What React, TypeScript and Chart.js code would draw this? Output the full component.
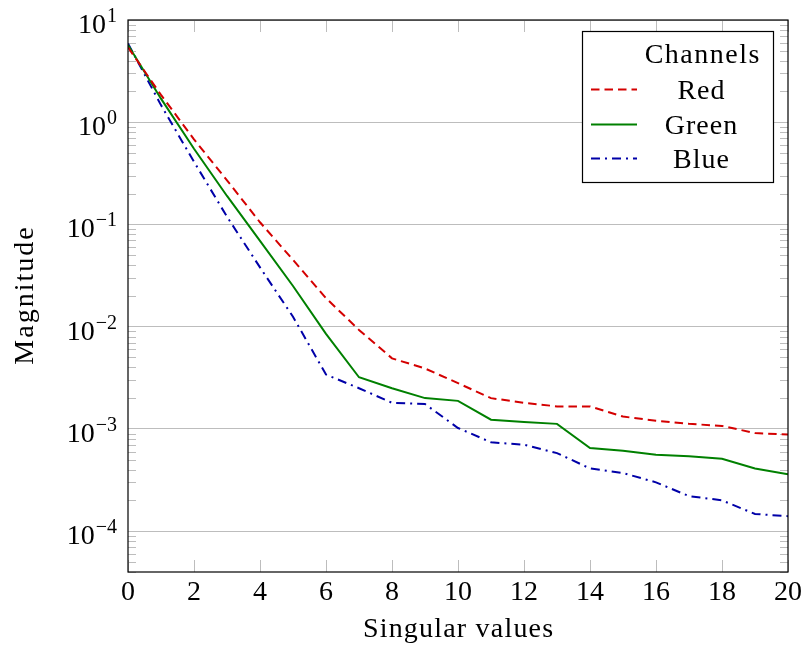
import React, { useEffect, useRef } from "react";
import { Chart, registerables } from "chart.js";

Chart.register(...registerables);

const xValues = [0, 1, 2, 3, 4, 5, 6, 7, 8, 9, 10, 11, 12, 13, 14, 15, 16, 17, 18, 19, 20];
const redValues = [5.4, 1.85, 0.68, 0.27, 0.105, 0.045, 0.019, 0.0093, 0.0049, 0.0039, 0.0028, 0.002, 0.0018, 0.00166, 0.00166, 0.00132, 0.0012, 0.00112, 0.00107, 0.00091, 0.00088];
const greenValues = [5.7, 1.7, 0.55, 0.19, 0.069, 0.025, 0.0085, 0.0032, 0.0025, 0.002, 0.00188, 0.00123, 0.00117, 0.00112, 0.00065, 0.00061, 0.00056, 0.00054, 0.00051, 0.00041, 0.00036];
const blueValues = [5.9, 1.47, 0.41, 0.119, 0.038, 0.0125, 0.0034, 0.0025, 0.0018, 0.00175, 0.00102, 0.00074, 0.0007, 0.00058, 0.00041, 0.00037, 0.0003, 0.00022, 0.0002, 0.000147, 0.00014];
const xTicks = [0, 2, 4, 6, 8, 10, 12, 14, 16, 18, 20];
const yExponents = [-4, -3, -2, -1, 0, 1];
const seriesNames = ["Red", "Green", "Blue"];
const legendTitle = "Channels";
const xTitle = "Singular values";
const yTitle = "Magnitude";

const RED = "#d40000";
const GREEN = "#008000";
const BLUE = "#0000a8";
const TICK_GRAY = "#bdbdbd";
const FONT = "'Liberation Serif', 'DejaVu Serif', serif";
const FS = 28;
const EXP_FS = 20;

function toPoints(vals: number[]) {
  return xValues.map((x, i) => ({ x, y: vals[i] }));
}

function spacedText(ctx: any, text: string, x: number, y: number, spacing: number) {
  ctx.letterSpacing = spacing + "px";
  ctx.fillText(text, x + spacing / 2, y);
  ctx.letterSpacing = "0px";
}

const decorPlugin = {
  id: "decor",
  beforeDatasetsDraw(chart: any) {
    const ctx = chart.ctx as CanvasRenderingContext2D;
    const { left, right, top, bottom } = chart.chartArea;
    const ys = chart.scales.y;
    const xs = chart.scales.x;
    ctx.save();
    ctx.strokeStyle = TICK_GRAY;
    ctx.lineWidth = 1;
    ctx.beginPath();
    for (let e = -5; e <= 1; e++) {
      for (let m = 2; m <= 9; m++) {
        const v = m * Math.pow(10, e);
        if (v < ys.min || v > ys.max) continue;
        const py = Math.round(ys.getPixelForValue(v)) + 0.5;
        ctx.moveTo(left, py);
        ctx.lineTo(left + 8, py);
        ctx.moveTo(right, py);
        ctx.lineTo(right - 8, py);
      }
    }
    for (const t of xTicks) {
      const px = Math.round(xs.getPixelForValue(t)) + 0.5;
      ctx.moveTo(px, bottom);
      ctx.lineTo(px, bottom - 12);
      ctx.moveTo(px, top);
      ctx.lineTo(px, top + 12);
    }
    ctx.stroke();
    ctx.restore();
  },
  afterDatasetsDraw(chart: any) {
    const ctx = chart.ctx as CanvasRenderingContext2D;
    const { left, right, top, bottom } = chart.chartArea;
    const ys = chart.scales.y;
    const xs = chart.scales.x;
    ctx.save();
    ctx.strokeStyle = "#000";
    ctx.lineWidth = 1.2;
    ctx.strokeRect(left, top, right - left, bottom - top);

    ctx.fillStyle = "#000";
    for (const e of yExponents) {
      const py = ys.getPixelForValue(Math.pow(10, e));
      const expText = e < 0 ? "\u2212" + Math.abs(e) : String(e);
      ctx.font = `${EXP_FS}px ${FONT}`;
      const ew = ctx.measureText(expText).width;
      const rx = left - 11;
      ctx.textAlign = "right";
      ctx.textBaseline = "alphabetic";
      ctx.fillText(expText, rx, py + 2);
      ctx.font = `${FS}px ${FONT}`;
      ctx.fillText("10", rx - ew - 1, py + 13);
    }
    ctx.font = `${FS}px ${FONT}`;
    ctx.textAlign = "center";
    ctx.textBaseline = "alphabetic";
    for (const t of xTicks) {
      const px = xs.getPixelForValue(t);
      ctx.fillText(String(t), px, 600);
    }
    spacedText(ctx, xTitle, (left + right) / 2, 637, 1.2);
    ctx.save();
    ctx.translate(33, (top + bottom) / 2);
    ctx.rotate(-Math.PI / 2);
    ctx.textAlign = "center";
    spacedText(ctx, yTitle, 0, 0, 2);
    ctx.restore();

    const bx = 582.5, by = 31.5, bw = 191, bh = 151;
    ctx.fillStyle = "#fff";
    ctx.fillRect(bx, by, bw, bh);
    ctx.strokeStyle = "#000";
    ctx.lineWidth = 1.2;
    ctx.strokeRect(bx, by, bw, bh);
    ctx.fillStyle = "#000";
    ctx.font = `${FS}px ${FONT}`;
    ctx.textAlign = "center";
    ctx.textBaseline = "alphabetic";
    spacedText(ctx, legendTitle, 702, 63, 1.5);
    const rowsY = [89, 124, 158];
    chart.data.datasets.forEach((ds: any, i: number) => {
      const y = rowsY[i];
      ctx.save();
      ctx.strokeStyle = ds.borderColor;
      ctx.lineWidth = ds.borderWidth;
      ctx.setLineDash(ds.borderDash || []);
      ctx.beginPath();
      ctx.moveTo(591, y + 0.5);
      ctx.lineTo(637, y + 0.5);
      ctx.stroke();
      ctx.restore();
      ctx.fillStyle = "#000";
      spacedText(ctx, seriesNames[i], 701, y + 10, 1);
    });
    ctx.restore();
  },
};

export default function App() {
  const canvasRef = useRef<HTMLCanvasElement | null>(null);
  useEffect(() => {
    const canvas = canvasRef.current;
    if (!canvas) return;
    const chart = new Chart(canvas, {
      type: "line",
      data: {
        datasets: [
          { label: seriesNames[0], data: toPoints(redValues), borderColor: RED, borderWidth: 2, borderDash: [8.5, 5], pointRadius: 0, fill: false, tension: 0 },
          { label: seriesNames[1], data: toPoints(greenValues), borderColor: GREEN, borderWidth: 2, pointRadius: 0, fill: false, tension: 0 },
          { label: seriesNames[2], data: toPoints(blueValues), borderColor: BLUE, borderWidth: 2, borderDash: [9, 5, 2, 5], pointRadius: 0, fill: false, tension: 0 },
        ],
      },
      options: {
        responsive: false,
        animation: false,
        devicePixelRatio: 1,
        layout: { padding: { left: 128, right: 13, top: 20, bottom: 76 } },
        plugins: { legend: { display: false }, tooltip: { enabled: false } },
        scales: {
          x: {
            type: "linear",
            min: 0,
            max: 20,
            ticks: { display: false },
            grid: { display: false, drawTicks: false },
            border: { display: false },
          },
          y: {
            type: "logarithmic",
            min: Math.pow(10, -4.4),
            max: 10,
            afterBuildTicks: (scale: any) => {
              scale.ticks = yExponents.map((e) => ({ value: Math.pow(10, e) }));
            },
            ticks: { display: false },
            grid: { color: TICK_GRAY, lineWidth: 1, drawTicks: false },
            border: { display: false },
          },
        },
      },
      plugins: [decorPlugin],
    });
    return () => chart.destroy();
  }, []);
  return (
    <div style={{ position: "absolute", left: 0, top: 0, width: 801, height: 648, background: "#fff" }}>
      <canvas ref={canvasRef} width={801} height={648} style={{ width: 801, height: 648, display: "block" }} />
    </div>
  );
}
